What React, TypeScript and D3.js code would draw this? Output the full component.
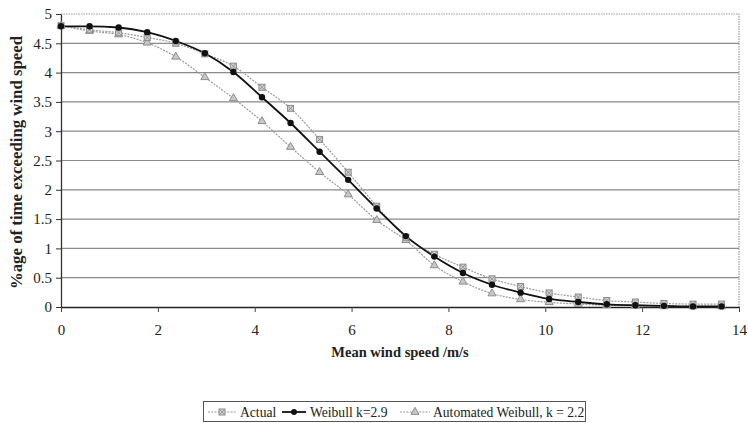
import { useEffect, useRef } from 'react';
import * as d3 from 'd3';

// wind speed bins (m/s)
const speeds = [0, 0.59, 1.19, 1.78, 2.37, 2.97, 3.56, 4.15, 4.74, 5.34, 5.93, 6.52,
  7.12, 7.71, 8.3, 8.9, 9.49, 10.08, 10.68, 11.27, 11.86, 12.45, 13.05, 13.64];

const actual = [4.8, 4.73, 4.68, 4.6, 4.5, 4.32, 4.11, 3.75, 3.39, 2.86, 2.3, 1.72,
  1.19, 0.9, 0.68, 0.48, 0.35, 0.24, 0.17, 0.11, 0.085, 0.06, 0.05, 0.05];

const weibull = [4.79, 4.79, 4.77, 4.69, 4.54, 4.33, 4.01, 3.58, 3.14, 2.65, 2.17, 1.68,
  1.21, 0.86, 0.58, 0.38, 0.245, 0.137, 0.085, 0.046, 0.03, 0.02, 0.01, 0.01];

const automated = [4.8, 4.71, 4.65, 4.51, 4.27, 3.92, 3.56, 3.17, 2.73, 2.3, 1.92, 1.48,
  1.14, 0.71, 0.43, 0.23, 0.13, 0.08, 0.05, 0.03, 0.02, 0.01, 0.01, 0.01];

const yTicks = [0, 0.5, 1, 1.5, 2, 2.5, 3, 3.5, 4, 4.5, 5];
const xTicks = [0, 2, 4, 6, 8, 10, 12, 14];

const FONT = "'Liberation Serif', 'Times New Roman', Tinos, 'DejaVu Serif', 'Noto Serif', serif";

// hatched square marker used for the "Actual" series
function addSquare(g: d3.Selection<SVGGElement, unknown, null, undefined>, cx: number, cy: number) {
  const h = 3;
  g.append('rect')
    .attr('x', cx - h)
    .attr('y', cy - h)
    .attr('width', h * 2)
    .attr('height', h * 2)
    .attr('fill', '#d0d0d0')
    .attr('stroke', '#8c8c8c')
    .attr('stroke-width', 1);
  g.append('path')
    .attr('d', `M${cx - h},${cy - h}L${cx + h},${cy + h}M${cx + h},${cy - h}L${cx - h},${cy + h}`)
    .attr('stroke', '#8c8c8c')
    .attr('stroke-width', 0.8);
}

export default function App() {
  const svgRef = useRef<SVGSVGElement>(null);

  useEffect(() => {
    if (!svgRef.current) return;
    const svg = d3.select(svgRef.current);
    svg.selectAll('*').remove();

    const x = d3.scaleLinear().domain([0, 14]).range([61, 739]);
    const y = d3.scaleLinear().domain([0, 5]).range([307, 14]);

    // gridlines
    svg.append('g')
      .selectAll('line')
      .data(yTicks.filter(t => t > 0 && t < 5))
      .enter()
      .append('line')
      .attr('x1', x(0))
      .attr('x2', x(14))
      .attr('y1', d => y(d))
      .attr('y2', d => y(d))
      .attr('stroke', '#8a8a8a')
      .attr('stroke-width', 1.2);

    // top + right dotted borders
    svg.append('path')
      .attr('d', `M${x(0)},${y(5)}H${x(14)}V${y(0)}`)
      .attr('fill', 'none')
      .attr('stroke', '#9a9a9a')
      .attr('stroke-width', 1.2)
      .attr('stroke-dasharray', '1.5 1');

    // y axis
    const yAxis = svg.append('g')
      .attr('transform', `translate(${x(0)},0)`)
      .call(d3.axisLeft(y).tickValues(yTicks).tickSize(5).tickSizeOuter(0).tickPadding(4)
        .tickFormat(d => String(d)));
    yAxis.select('.domain').attr('stroke', '#333').attr('stroke-width', 1.3);
    yAxis.selectAll('line').attr('stroke', '#333');
    yAxis.selectAll('text')
      .style('font-family', FONT)
      .style('font-size', '15px')
      .attr('fill', '#222');

    // x axis
    const xAxis = svg.append('g')
      .attr('transform', `translate(0,${y(0)})`)
      .call(d3.axisBottom(x).tickValues(xTicks).tickSize(5).tickSizeOuter(0).tickPadding(12)
        .tickFormat(d => String(d)));
    xAxis.select('.domain').attr('stroke', '#222').attr('stroke-width', 1.5);
    xAxis.selectAll('line').attr('stroke', '#444');
    xAxis.selectAll('text')
      .style('font-family', FONT)
      .style('font-size', '15px')
      .attr('fill', '#222');

    const line = d3.line<number>()
      .x((_, i) => x(speeds[i]))
      .y(d => y(d))
      .curve(d3.curveMonotoneX);

    // Automated Weibull
    svg.append('path')
      .datum(automated)
      .attr('fill', 'none')
      .attr('stroke', '#9a9a9a')
      .attr('stroke-width', 1.2)
      .attr('stroke-dasharray', '2 1.2')
      .attr('d', line);

    // Actual
    svg.append('path')
      .datum(actual)
      .attr('fill', 'none')
      .attr('stroke', '#9a9a9a')
      .attr('stroke-width', 1.2)
      .attr('stroke-dasharray', '2 1.2')
      .attr('d', line);

    // Weibull k=2.9
    svg.append('path')
      .datum(weibull)
      .attr('fill', 'none')
      .attr('stroke', '#111')
      .attr('stroke-width', 1.8)
      .attr('d', line);

    const tri = d3.symbol().type(d3.symbolTriangle).size(28);

    svg.append('g')
      .selectAll('path')
      .data(automated)
      .enter()
      .append('path')
      .attr('transform', (d, i) => `translate(${x(speeds[i])},${y(d)})`)
      .attr('d', tri)
      .attr('fill', '#c8c8c8')
      .attr('stroke', '#8c8c8c')
      .attr('stroke-width', 1);

    const actualG = svg.append('g');
    actual.forEach((d, i) => addSquare(actualG, x(speeds[i]), y(d)));

    svg.append('g')
      .selectAll('circle')
      .data(weibull)
      .enter()
      .append('circle')
      .attr('cx', (_, i) => x(speeds[i]))
      .attr('cy', d => y(d))
      .attr('r', 3.2)
      .attr('fill', '#111');

    // axis titles
    svg.append('text')
      .attr('transform', `translate(22,${(y(0) + y(5)) / 2 + 2}) rotate(-90)`)
      .attr('text-anchor', 'middle')
      .style('font-family', FONT)
      .style('font-weight', 'bold')
      .style('font-size', '16.8px')
      .attr('fill', '#222')
      .text('%age of time exceeding wind speed');

    svg.append('text')
      .attr('x', 400)
      .attr('y', 357)
      .attr('text-anchor', 'middle')
      .style('font-family', FONT)
      .style('font-weight', 'bold')
      .style('font-size', '14.5px')
      .attr('fill', '#222')
      .text('Mean wind speed /m/s');

    // legend
    const lg = svg.append('g');
    lg.append('rect')
      .attr('x', 203.5)
      .attr('y', 401.5)
      .attr('width', 382)
      .attr('height', 20)
      .attr('fill', 'white')
      .attr('stroke', '#555')
      .attr('stroke-width', 1);

    const items = [
      { label: 'Actual', x0: 208, x1: 236, tx: 240, kind: 'actual' },
      { label: 'Weibull k=2.9', x0: 282, x1: 306, tx: 310, kind: 'weibull' },
      { label: 'Automated Weibull, k = 2.2', x0: 400, x1: 430, tx: 433, kind: 'auto' },
    ];
    const ly = 412;
    items.forEach(it => {
      lg.append('line')
        .attr('x1', it.x0)
        .attr('x2', it.x1)
        .attr('y1', ly)
        .attr('y2', ly)
        .attr('stroke', it.kind === 'weibull' ? '#111' : '#9a9a9a')
        .attr('stroke-width', it.kind === 'weibull' ? 1.8 : 1.2)
        .attr('stroke-dasharray', it.kind === 'weibull' ? null : '2 1.2');
      const cx = (it.x0 + it.x1) / 2;
      if (it.kind === 'weibull') {
        lg.append('circle').attr('cx', cx).attr('cy', ly).attr('r', 3).attr('fill', '#111');
      } else if (it.kind === 'actual') {
        addSquare(lg as any, cx, ly);
      } else {
        lg.append('path')
          .attr('transform', `translate(${cx},${ly})`)
          .attr('d', tri)
          .attr('fill', '#c8c8c8')
          .attr('stroke', '#8c8c8c');
      }
      lg.append('text')
        .attr('x', it.tx)
        .attr('y', 417)
        .style('font-family', FONT)
        .style('font-size', '13.6px')
        .attr('fill', '#222')
        .text(it.label);
    });
  }, []);

  return (
    <svg
      ref={svgRef}
      width={748}
      height={423}
      style={{ position: 'absolute', left: 0, top: 0, background: 'white' }}
    />
  );
}
